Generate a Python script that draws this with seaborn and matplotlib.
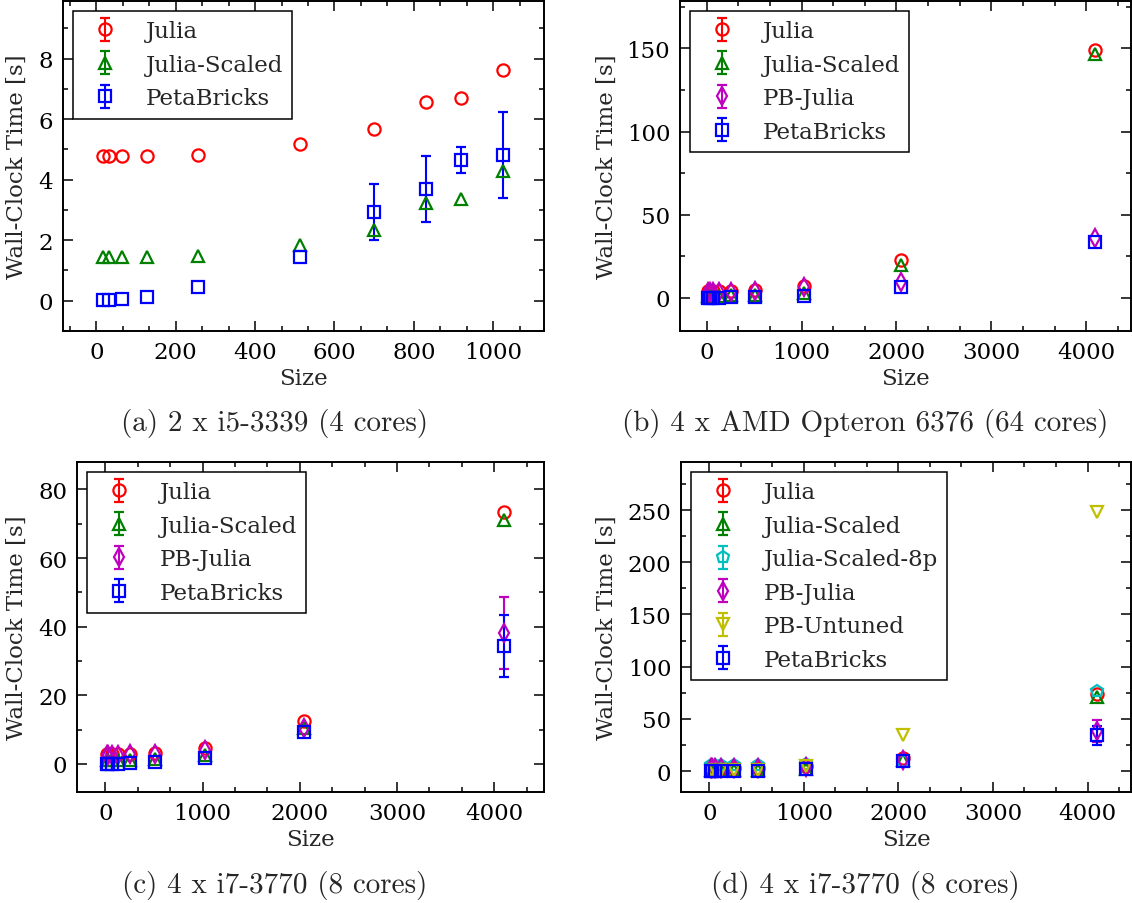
import numpy as np
import matplotlib
matplotlib.use("Agg")
import matplotlib.pyplot as plt
from matplotlib.ticker import MultipleLocator
import seaborn as sns

nan = np.nan

# ---------------- data ----------------
# (a) 2 x i5-3339
sizes_a = [16, 32, 64, 128, 256, 512, 700, 830, 920, 1024]
julia_a = [4.79, 4.79, 4.78, 4.78, 4.82, 5.19, 5.67, 6.55, 6.71, 7.62]
julia_scaled_a = [1.45, 1.45, 1.45, 1.45, 1.47, 1.85, 2.35, 3.23, 3.37, 4.27]
petabricks_a = [0.03, 0.03, 0.05, 0.11, 0.44, 1.43, 2.93, 3.69, 4.64, 4.80]
petabricks_err_a = [nan, nan, nan, nan, nan, nan, 0.94, 1.08, 0.43, 1.42]

# common sizes for (b), (c), (d)
sizes = [16, 32, 64, 128, 256, 512, 1024, 2048, 4096]

# (b) 4 x AMD Opteron 6376
julia_b = [4.2, 4.2, 4.2, 4.2, 4.3, 4.8, 6.8, 23.0, 149.0]
julia_scaled_b = [1.3, 1.3, 1.3, 1.3, 1.4, 1.8, 3.0, 19.7, 146.4]
pb_julia_b = [3.6, 3.6, 3.6, 3.6, 3.7, 4.2, 6.2, 9.2, 36.0]
petabricks_b = [0.1, 0.1, 0.1, 0.15, 0.2, 0.3, 1.2, 6.6, 33.7]

# (c)/(d) 4 x i7-3770
julia_c = [3.0, 3.0, 3.0, 3.0, 3.0, 3.3, 4.5, 12.5, 73.5]
julia_scaled_c = [1.0, 1.0, 1.0, 1.0, 1.0, 1.3, 2.5, 10.5, 71.2]
pb_julia_c = [2.7, 2.7, 2.7, 2.7, 2.8, 3.0, 4.0, 10.5, 38.1]
pb_julia_err_c = [nan, nan, nan, nan, nan, nan, nan, nan, 10.5]
petabricks_c = [0.05, 0.05, 0.05, 0.1, 0.2, 0.4, 1.8, 9.3, 34.4]
petabricks_err_c = [nan, nan, nan, nan, nan, nan, nan, nan, 9.1]
julia_scaled_8p_d = [6.1, 6.1, 6.1, 6.1, 6.1, 6.1, 7.1, 10.0, 77.0]
pb_untuned_d = [0.5, 0.5, 0.6, 0.8, 1.0, 1.5, 4.5, 34.8, 248.0]

captions = ["(a) 2 x i5-3339 (4 cores)",
            "(b) 4 x AMD Opteron 6376 (64 cores)",
            "(c) 4 x i7-3770 (8 cores)",
            "(d) 4 x i7-3770 (8 cores)"]

# ---------------- style ----------------
sns.set_theme(style="ticks")
plt.rcParams["font.family"] = ["DejaVu Serif"]
plt.rcParams["axes.edgecolor"] = "black"
plt.rcParams["xtick.color"] = "black"
plt.rcParams["ytick.color"] = "black"

FS = 16.5
W, H = 1132, 904
fig = plt.figure(figsize=(W / 100, H / 100), dpi=100)
fig.patch.set_facecolor("white")


def add_axes_px(left, top, right, bottom):
    return fig.add_axes([left / W, 1 - bottom / H, (right - left) / W, (bottom - top) / H])


STY = {"Julia": ("o", "#ff0000"),
       "Julia-Scaled": ("^", "#008000"),
       "Julia-Scaled-8p": ("p", "#00bfbf"),
       "PB-Julia": ("d", "#bf00bf"),
       "PB-Untuned": ("v", "#bfbf00"),
       "PetaBricks": ("s", "#0000ff")}


def series(ax, x, y, name, err=None):
    m, c = STY[name]
    if err is None:
        err = [nan] * len(y)
    ax.errorbar(x, y, yerr=err, fmt=m, color=c, mfc="none", mec=c, ms=8.8, mew=1.6,
                elinewidth=1.5, capsize=3.6, capthick=1.5, label=name, linestyle="none")


def style_axes(ax, xlim, ylim, xmaj, ymaj, px_left, ylabel_x):
    ax.set_xlim(*xlim)
    ax.set_ylim(*ylim)
    ax.xaxis.set_major_locator(MultipleLocator(xmaj))
    ax.xaxis.set_minor_locator(MultipleLocator(xmaj / 3))
    ax.yaxis.set_major_locator(MultipleLocator(ymaj))
    ax.yaxis.set_minor_locator(MultipleLocator(ymaj / 2))
    ax.tick_params(which="both", direction="in", top=True, right=True, width=1.1,
                   labelsize=FS, pad=7)
    ax.tick_params(which="major", length=7)
    ax.tick_params(which="minor", length=3.8)
    ax.set_xlabel("Size", fontsize=FS)
    ax.set_ylabel("Wall-Clock Time [s]", fontsize=FS)
    ax.xaxis.set_label_coords(0.5, -0.11)
    bb = ax.get_position()
    axw = bb.width * W
    ax.yaxis.set_label_coords((ylabel_x - px_left) / axw, 0.5)
    for s in ax.spines.values():
        s.set_color("black")
        s.set_linewidth(1.4)
    leg = ax.legend(loc="upper left", bbox_to_anchor=(0.0, 1.0), fontsize=FS,
                    frameon=True, fancybox=False, framealpha=1, edgecolor="black",
                    numpoints=1, borderpad=0.4, labelspacing=0.5, handlelength=2.0,
                    handletextpad=0.75, borderaxespad=0.45)
    leg.get_frame().set_linewidth(1.1)


# (a)
axa = add_axes_px(63, 2, 544, 332)
series(axa, sizes_a, julia_a, "Julia")
series(axa, sizes_a, julia_scaled_a, "Julia-Scaled")
series(axa, sizes_a, petabricks_a, "PetaBricks", petabricks_err_a)
style_axes(axa, (-84, 1128), (-1.0, 9.9), 200, 2, 63, 28)

# (b)
axb = add_axes_px(680, 2, 1131, 332)
series(axb, sizes, julia_b, "Julia")
series(axb, sizes, julia_scaled_b, "Julia-Scaled")
series(axb, sizes, pb_julia_b, "PB-Julia")
series(axb, sizes, petabricks_b, "PetaBricks")
style_axes(axb, (-281, 4471), (-20, 178.5), 1000, 50, 680, 618)

# (c)
axc = add_axes_px(77, 463, 544, 793)
series(axc, sizes, julia_c, "Julia")
series(axc, sizes, julia_scaled_c, "Julia-Scaled")
series(axc, sizes, pb_julia_c, "PB-Julia", pb_julia_err_c)
series(axc, sizes, petabricks_c, "PetaBricks", petabricks_err_c)
style_axes(axc, (-291, 4512), (-8.2, 88), 1000, 20, 77, 28)

# (d)
axd = add_axes_px(681, 463, 1131, 793)
series(axd, sizes, julia_c, "Julia")
series(axd, sizes, julia_scaled_c, "Julia-Scaled")
series(axd, sizes, julia_scaled_8p_d, "Julia-Scaled-8p")
series(axd, sizes, pb_julia_c, "PB-Julia", pb_julia_err_c)
series(axd, sizes, pb_untuned_d, "PB-Untuned")
series(axd, sizes, petabricks_c, "PetaBricks", petabricks_err_c)
style_axes(axd, (-300, 4460), (-20, 296), 1000, 50, 681, 618)

# captions
for (cx, cy), txt in zip([(275, 424), (865, 424), (275, 886), (865, 886)], captions):
    fig.text(cx / W, 1 - cy / H, txt, ha="center", va="center", fontsize=21,
             family=["cmr10", "DejaVu Serif"])

fig.savefig("out.png", dpi=100, facecolor="white")
